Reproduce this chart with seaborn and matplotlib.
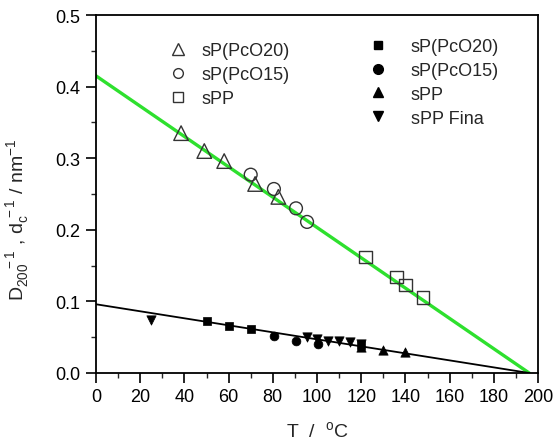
import matplotlib
matplotlib.use("Agg")
import matplotlib.pyplot as plt
import seaborn as sns
import numpy as np
import pandas as pd
from matplotlib.lines import Line2D

# ---- data ----
tri_open_T = [38.5, 49, 58, 72, 82.5]
tri_open_D = [0.335, 0.310, 0.296, 0.264, 0.246]
circ_open_T = [70, 80.5, 90.5, 95.5]
circ_open_D = [0.277, 0.257, 0.230, 0.211]
sq_open_T = [122, 136, 140, 148]
sq_open_D = [0.162, 0.134, 0.123, 0.105]

sq_fill_T = [50, 60, 70, 120]
sq_fill_D = [0.072, 0.066, 0.062, 0.039]
circ_fill_T = [80.5, 90.5, 100.5]
circ_fill_D = [0.052, 0.045, 0.040]
tri_fill_T = [120, 130, 140]
tri_fill_D = [0.037, 0.032, 0.029]
tri_down_T = [25, 95.5, 100, 105, 110, 115, 120]
tri_down_D = [0.074, 0.050, 0.047, 0.045, 0.044, 0.043, 0.041]

fit_T = [0, 196]
fit_green_D = [0.415, 0.0]
fit_black_D = [0.096, 0.0]

labels_open = ["sP(PcO20)", "sP(PcO15)", "sPP"]
labels_fill = ["sP(PcO20)", "sP(PcO15)", "sPP", "sPP Fina"]

sns.set_style("ticks")
plt.rcParams['font.family'] = ['Liberation Sans', 'DejaVu Sans']
plt.rcParams['mathtext.fontset'] = 'custom'
plt.rcParams['mathtext.rm'] = 'Liberation Sans'
plt.rcParams['mathtext.it'] = 'Liberation Sans'
plt.rcParams['mathtext.default'] = 'regular'

fig = plt.figure(figsize=(5.55, 4.39), dpi=100)
ax = fig.add_axes([96/555, 1-374/439, 442/555, 358/439])

green = "#2ee02e"
sns.lineplot(x=fit_T, y=fit_green_D, ax=ax, color=green, lw=2.4, zorder=2)
sns.lineplot(x=fit_T, y=fit_black_D, ax=ax, color="black", lw=1.3, zorder=2)

open_kw = dict(facecolor="none", edgecolor="#333333", linewidth=1.0, zorder=3)
sns.scatterplot(x=tri_open_T, y=tri_open_D, ax=ax, marker="^", s=110, **open_kw)
sns.scatterplot(x=circ_open_T, y=circ_open_D, ax=ax, marker="o", s=85, **open_kw)
sns.scatterplot(x=sq_open_T, y=sq_open_D, ax=ax, marker="s", s=85, **open_kw)

fill_kw = dict(color="black", edgecolor="black", linewidth=0.5, zorder=4)
sns.scatterplot(x=sq_fill_T, y=sq_fill_D, ax=ax, marker="s", s=30, **fill_kw)
sns.scatterplot(x=circ_fill_T, y=circ_fill_D, ax=ax, marker="o", s=40, **fill_kw)
sns.scatterplot(x=tri_fill_T, y=tri_fill_D, ax=ax, marker="^", s=45, **fill_kw)
sns.scatterplot(x=tri_down_T, y=tri_down_D, ax=ax, marker="v", s=45, **fill_kw)

ax.set_xlim(0, 200)
ax.set_ylim(0, 0.5)
ax.set_xticks(np.arange(0, 201, 20))
ax.set_xticks(np.arange(0, 201, 10), minor=True)
ax.set_yticks(np.arange(0, 0.51, 0.1))
ax.set_yticks(np.arange(0, 0.51, 0.05), minor=True)
ax.yaxis.set_major_formatter(matplotlib.ticker.FormatStrFormatter('%.1f'))
ax.tick_params(axis='both', which='major', direction='out', length=7, width=1.2,
               labelsize=13, colors='black', top=False, right=False, pad=4)
ax.tick_params(axis='both', which='minor', direction='out', length=3.5, width=1.0,
               top=False, right=False)
for sp in ax.spines.values():
    sp.set_visible(True)
    sp.set_linewidth(1.3)
    sp.set_color('black')

ax.set_xlabel("T  /  $^{o}$C", fontsize=14)
ax.xaxis.set_label_coords(0.5, -0.13)
ax.set_ylabel(r"D$_{200}^{\hspace{1.4}-1}$ , d$_{c}^{\hspace{0.3}-1}$ / nm$^{-1}$", fontsize=14)
ax.yaxis.set_label_coords(-0.147, 0.43)

h_open = [Line2D([], [], ls='none', marker=m, markersize=ms, markerfacecolor='none',
                 markeredgecolor='#333333', markeredgewidth=1.0)
          for m, ms in zip(["^", "o", "s"], [8, 7, 7])]
h_fill = [Line2D([], [], ls='none', marker=m, markersize=ms, color='black')
          for m, ms in zip(["s", "o", "^", "v"], [6, 7, 7, 7])]

leg1 = ax.legend(h_open, labels_open, loc='upper left', bbox_to_anchor=(160/555, 1-34/439),
                 bbox_transform=fig.transFigure, frameon=False, fontsize=13,
                 handlelength=1.0, handletextpad=0.8, labelspacing=0.4, borderpad=0)
ax.add_artist(leg1)
ax.legend(h_fill, labels_fill, loc='upper left', bbox_to_anchor=(360/555, 1-30/439),
          bbox_transform=fig.transFigure, frameon=False, fontsize=13,
          handlelength=1.0, handletextpad=1.3, labelspacing=0.38, borderpad=0)

fig.savefig("out.png", dpi=100)
